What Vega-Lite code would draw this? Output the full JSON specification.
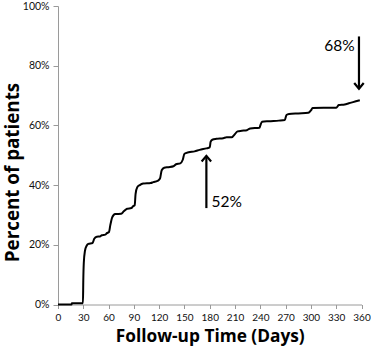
{
  "$schema": "https://vega.github.io/schema/vega-lite/v6.json",
  "width": 303.5,
  "height": 298.5,
  "autosize": "none",
  "padding": {"left": 58, "top": 6, "right": 9, "bottom": 47},
  "background": "white",
  "config": {
    "view": {"stroke": null},
    "font": "Lato",
    "axis": {
      "grid": false,
      "domainColor": "#9a9a9a",
      "tickColor": "#9a9a9a",
      "labelFont": "Lato",
      "labelColor": "#111111",
      "labelFontSize": 10.5,
      "titleFont": "Open Sans",
      "titleFontWeight": "bold",
      "titleColor": "#000000"
    },
    "axisX": {"labelOverlap": false, "tickCount": 13}
  },
  "datasets": {
    "curve": [
      {"day": 0, "pct": 0}, {"day": 16, "pct": 0}, {"day": 16.5, "pct": 0.4}, {"day": 29.6, "pct": 0.4},
      {"day": 30, "pct": 8}, {"day": 30.6, "pct": 14}, {"day": 32, "pct": 18}, {"day": 34, "pct": 19.7},
      {"day": 36, "pct": 20.3}, {"day": 41, "pct": 20.6}, {"day": 43, "pct": 22}, {"day": 46, "pct": 22.7},
      {"day": 50, "pct": 22.8}, {"day": 52, "pct": 23.2}, {"day": 56, "pct": 23.4}, {"day": 58, "pct": 23.9},
      {"day": 60.5, "pct": 24.3}, {"day": 62, "pct": 26.5}, {"day": 64, "pct": 29}, {"day": 66, "pct": 30},
      {"day": 68, "pct": 30.3}, {"day": 75, "pct": 30.4}, {"day": 78, "pct": 31.2}, {"day": 82, "pct": 32.1},
      {"day": 87, "pct": 32.3}, {"day": 89, "pct": 32.9}, {"day": 91, "pct": 33.3}, {"day": 92, "pct": 37},
      {"day": 94, "pct": 39.3}, {"day": 97, "pct": 40}, {"day": 101, "pct": 40.5}, {"day": 110, "pct": 40.7},
      {"day": 113, "pct": 41}, {"day": 118, "pct": 41.4}, {"day": 121, "pct": 42.2}, {"day": 123, "pct": 45},
      {"day": 126, "pct": 45.8}, {"day": 131, "pct": 46}, {"day": 137, "pct": 46.3}, {"day": 140, "pct": 47},
      {"day": 145, "pct": 47.3}, {"day": 148, "pct": 48.5}, {"day": 150, "pct": 50.5}, {"day": 155, "pct": 51},
      {"day": 162, "pct": 51.3}, {"day": 168, "pct": 51.8}, {"day": 176, "pct": 52.3}, {"day": 180, "pct": 52.6},
      {"day": 181, "pct": 54.5}, {"day": 183, "pct": 55.2}, {"day": 188, "pct": 55.5}, {"day": 196, "pct": 55.7},
      {"day": 200, "pct": 56}, {"day": 206, "pct": 56}, {"day": 209, "pct": 56.8}, {"day": 213, "pct": 58},
      {"day": 218, "pct": 58.2}, {"day": 224, "pct": 58.4}, {"day": 228, "pct": 59}, {"day": 239, "pct": 59.2},
      {"day": 240, "pct": 60}, {"day": 242, "pct": 61.2}, {"day": 250, "pct": 61.4}, {"day": 262, "pct": 61.6},
      {"day": 269, "pct": 61.8}, {"day": 271, "pct": 63.5}, {"day": 274, "pct": 63.8}, {"day": 285, "pct": 64},
      {"day": 297, "pct": 64.2}, {"day": 300, "pct": 65}, {"day": 302, "pct": 65.8}, {"day": 315, "pct": 65.9},
      {"day": 330, "pct": 65.9}, {"day": 333, "pct": 66.8}, {"day": 340, "pct": 67}, {"day": 345, "pct": 67.4},
      {"day": 350, "pct": 67.8}, {"day": 358, "pct": 68.4}
    ],
    "arrows": [
      {"day": 357, "from": 89.8, "to": 72.3, "tipdir": "down"},
      {"day": 176, "from": 32.3, "to": 49.8, "tipdir": "up"}
    ],
    "lab68": [{"day": 352, "pct": 86.5, "label": "68%"}],
    "lab52": [{"day": 182, "pct": 34.2, "label": "52%"}]
  },
  "encoding": {
    "x": {
      "field": "day", "type": "quantitative",
      "scale": {"domain": [0, 360], "nice": false},
      "axis": {
        "values": [0, 30, 60, 90, 120, 150, 180, 210, 240, 270, 300, 330, 360],
        "labelOverlap": false,
        "labelFontSize": 10,
        "title": "Follow-up Time (Days)",
        "titleFontSize": 17.3,
        "tickSize": 4, "labelPadding": 4, "titlePadding": 5,
        "labelFlush": false
      }
    },
    "y": {
      "field": "pct", "type": "quantitative",
      "scale": {"domain": [0, 100], "nice": false},
      "axis": {
        "values": [0, 20, 40, 60, 80, 100],
        "labelExpr": "datum.value + '%'",
        "title": "Percent of patients",
        "titleFontSize": 18.8,
        "tickSize": 5, "labelPadding": 4,
        "titleX": -36,
        "titleY": 166
      }
    }
  },
  "layer": [
    {
      "data": {"name": "curve"},
      "mark": {"type": "line", "color": "#000000", "strokeWidth": 2, "interpolate": "monotone"}
    },
    {
      "data": {"name": "arrows"},
      "mark": {"type": "rule", "color": "#000000", "strokeWidth": 2.2},
      "encoding": {
        "y": {"field": "from", "type": "quantitative"},
        "y2": {"field": "to"}
      }
    },
    {
      "data": {"name": "arrows"},
      "transform": [{"filter": "datum.tipdir === 'down'"}],
      "mark": {"type": "point", "shape": "M-1,-1.2L0,0L1,-1.2", "filled": false, "stroke": "#000000", "strokeWidth": 2.2, "size": 90, "opacity": 1},
      "encoding": {
        "y": {"field": "to", "type": "quantitative"}
      }
    },
    {
      "data": {"name": "arrows"},
      "transform": [{"filter": "datum.tipdir === 'up'"}],
      "mark": {"type": "point", "shape": "M-1,1.2L0,0L1,1.2", "filled": false, "stroke": "#000000", "strokeWidth": 2.2, "size": 90, "opacity": 1},
      "encoding": {
        "y": {"field": "to", "type": "quantitative"}
      }
    },
    {
      "data": {"name": "lab68"},
      "mark": {"type": "text", "align": "right", "baseline": "middle", "font": "Lato", "fontSize": 15.5, "color": "#000000"},
      "encoding": {
        "text": {"field": "label"}
      }
    },
    {
      "data": {"name": "lab52"},
      "mark": {"type": "text", "align": "left", "baseline": "middle", "font": "Lato", "fontSize": 15.5, "color": "#000000"},
      "encoding": {
        "text": {"field": "label"}
      }
    }
  ]
}
